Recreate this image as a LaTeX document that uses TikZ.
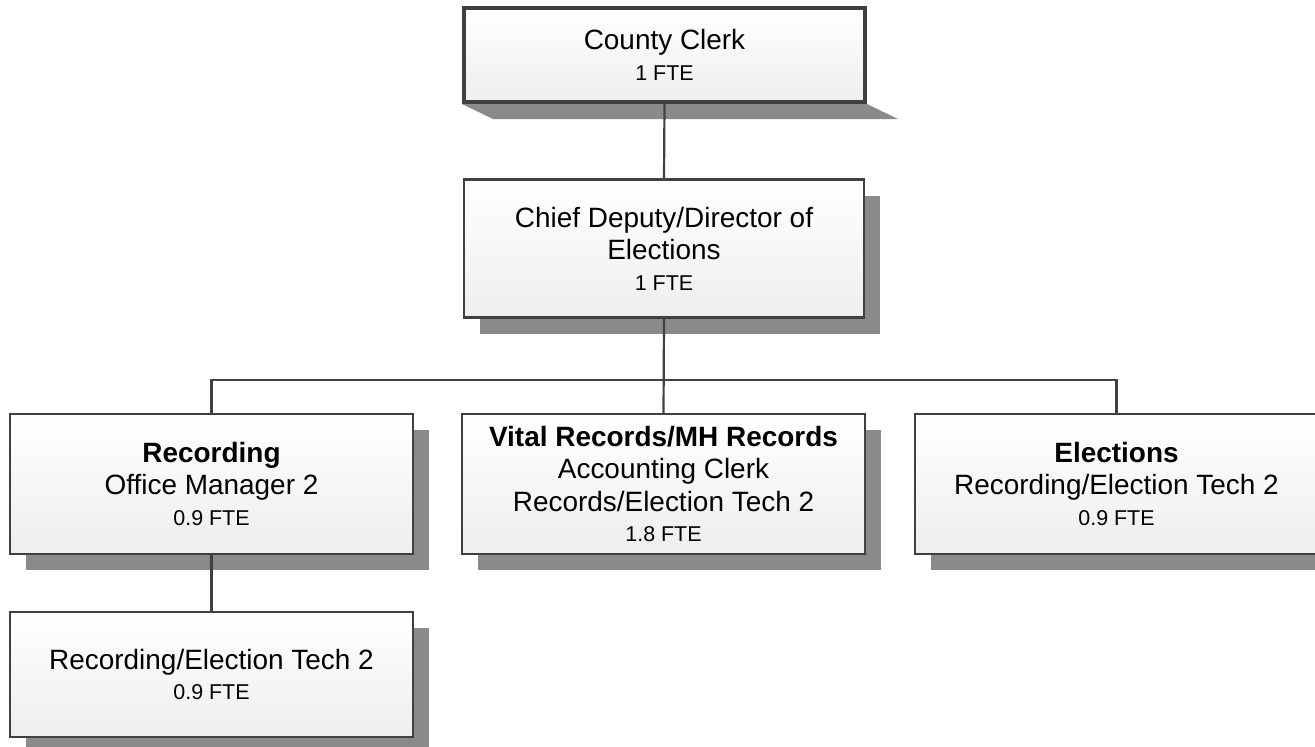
\documentclass[tikz,border=0pt]{standalone}
\usepackage{fontspec}
\setmainfont{Liberation Sans}
\usepackage{tikz}
\usetikzlibrary{calc,shadows,backgrounds}
\definecolor{edgegrey}{HTML}{404040}
\definecolor{shadowgrey}{HTML}{8A8A8A}
\definecolor{boxlo}{HTML}{EEEEEE}
\newcommand{\fte}[1]{\\[-1pt]{\fontsize{12.2pt}{15pt}\selectfont #1}}

\begin{document}
\begin{tikzpicture}[
  bx/.style={draw=edgegrey,line width=1.25pt,top color=white,bottom color=boxlo,align=center,
    minimum width=8.06cm,minimum height=2.80cm,inner sep=0pt,
    font=\fontsize{15.9pt}{18.4pt}\selectfont,
    drop shadow={shadow xshift=0.32cm,shadow yshift=-0.32cm,fill=shadowgrey,opacity=1}},
  head/.style={draw=edgegrey,line width=2.3pt,top color=white,bottom color=boxlo,align=center,
    minimum width=8.02cm,minimum height=1.88cm,inner sep=0pt,
    font=\fontsize{15.9pt}{18.4pt}\selectfont},
  ln/.style={draw=edgegrey,line width=1.25pt}]
  \useasboundingbox (0,0) rectangle (26.30,-14.92);
  \node[head] (cc) at (13.29,-1.10) {County Clerk\fte{1 FTE}};
  \node[bx,minimum width=8.00cm,minimum height=2.76cm] (cd) at (13.28,-4.97) {Chief Deputy/Director of\\Elections\fte{1 FTE}};
  \node[bx] (rec) at (4.23,-9.68) {\textbf{Recording}\\Office Manager 2\fte{0.9 FTE}};
  \node[bx] (vit) at (13.27,-9.68) {\textbf{Vital Records/MH Records}\\Accounting Clerk\\Records/Election Tech 2\fte{1.8 FTE}};
  \node[bx] (ele) at (22.33,-9.68) {\textbf{Elections}\\Recording/Election Tech 2\fte{0.9 FTE}};
  \node[bx,minimum height=2.50cm] (tech) at (4.23,-13.49) {Recording/Election Tech 2\fte{0.9 FTE}};
  \begin{scope}[on background layer]
    \fill[shadowgrey] (cc.south west) -- (cc.south east) -- ++(0.62,-0.30) -- ($(cc.south west)+(0.62,-0.30)$) -- cycle;
  \end{scope}
  \coordinate (bus) at (0,-7.60);
  \draw[ln] (cc.south) -- (cd.north);
  \draw[ln] (cd.south) -- (vit.north);
  \draw[ln] (rec.north) -- (rec.north |- bus) -- (ele.north |- bus) -- (ele.north);
  \draw[ln] (rec.south) -- (tech.north);
\end{tikzpicture}
\end{document}
